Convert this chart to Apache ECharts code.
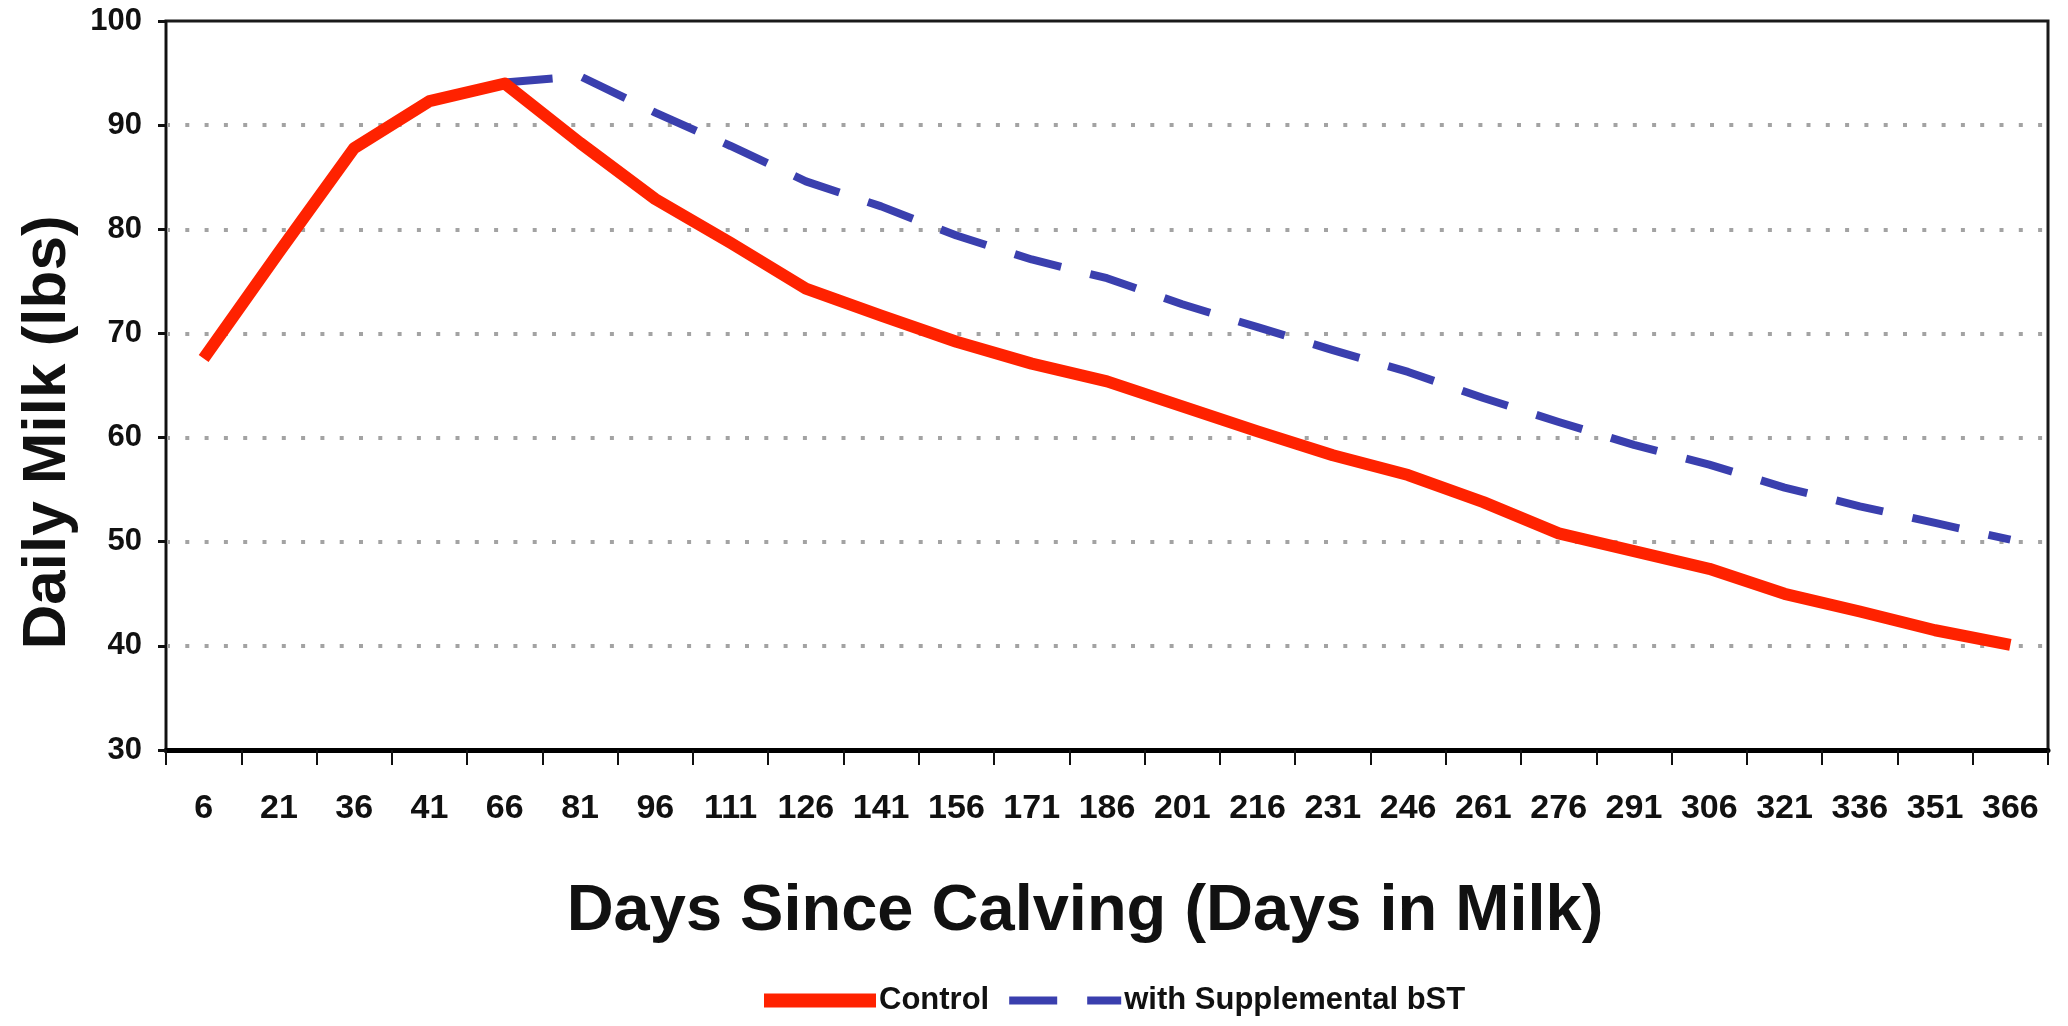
<!DOCTYPE html>
<html>
<head>
<meta charset="utf-8">
<script src="https://cdn.jsdelivr.net/npm/echarts/dist/echarts.min.js"></script>
<style>
  html, body { margin: 0; padding: 0; background: #ffffff; }
  #chart { width: 2068px; height: 1026px; }
</style>
</head>
<body>
<div id="chart"></div>
<script>
// Days since calving (category labels, as printed in the original, including "41")
const categories = ['6','21','36','41','66','81','96','111','126','141','156','171','186',
                    '201','216','231','246','261','276','291','306','321','336','351','366'];

// Daily milk (lbs), Control
const control = [67.6, 77.8, 87.8, 92.3, 94.0, 88.3, 82.9, 78.7, 74.3, 71.7, 69.2, 67.1, 65.4,
                 63.0, 60.6, 58.3, 56.4, 53.8, 50.8, 49.1, 47.4, 45.0, 43.3, 41.5, 40.1];

// Daily milk (lbs), with Supplemental bST (starts at day 66)
const withBST = [null, null, null, null, 94.1, 94.7, 91.2, 88.0, 84.6, 82.2, 79.4, 77.1, 75.3,
                 72.8, 70.6, 68.4, 66.3, 63.8, 61.5, 59.3, 57.4, 55.2, 53.4, 51.8, 50.2];

// Y axis range
const yMin = 30, yMax = 100, yStep = 10;

const seriesNames = ['Control', 'with Supplemental bST'];

const chart = echarts.init(document.getElementById('chart'), null, { renderer: 'canvas' });

const sans = '"Liberation Sans", Arial, Helvetica, sans-serif';

chart.setOption({
  animation: false,
  backgroundColor: '#ffffff',
  grid: {
    left: 166, right: 20, top: 21, bottom: 276,
    containLabel: false,
    show: true,
    borderColor: '#1a1a1a',
    borderWidth: 3,
    backgroundColor: 'transparent'
  },
  legend: {
    data: [
      { name: seriesNames[0], lineStyle: { width: 14 } },
      { name: seriesNames[1], lineStyle: { width: 8 } }
    ],
    left: 752,
    top: 980,
    itemWidth: 112,
    itemHeight: 16,
    itemGap: 16,
    itemStyle: { opacity: 0 },
    textStyle: {
      fontFamily: sans,
      fontWeight: 'bold',
      fontSize: 31,
      color: '#111',
      padding: [0, 0, 0, -2]
    }
  },
  xAxis: {
    type: 'category',
    data: categories,
    boundaryGap: true,
    name: 'Days Since Calving (Days in Milk)',
    nameLocation: 'middle',
    nameGap: 130,
    nameTextStyle: {
      fontFamily: sans,
      fontWeight: 'bold',
      fontSize: 65,
      color: '#111',
      padding: [0, 44, 0, 0]
    },
    axisLine: { show: true, lineStyle: { color: '#000', width: 5 } },
    axisTick: { show: true, interval: 0, length: 15, lineStyle: { color: '#111', width: 2 } },
    axisLabel: {
      interval: 0,
      margin: 42,
      fontFamily: sans,
      fontWeight: 'bold',
      fontSize: 34,
      color: '#111'
    },
    splitLine: { show: false }
  },
  yAxis: {
    type: 'value',
    min: yMin,
    max: yMax,
    interval: yStep,
    name: 'Daily Milk (lbs)',
    nameLocation: 'middle',
    nameGap: 87,
    nameRotate: 90,
    nameTextStyle: {
      fontFamily: sans,
      fontWeight: 'bold',
      fontSize: 62,
      color: '#111',
      padding: [0, 94, 0, 0]
    },
    axisLine: { show: true, lineStyle: { color: '#111', width: 2 } },
    axisTick: { show: true, length: 8, lineStyle: { color: '#111', width: 3 } },
    axisLabel: {
      margin: 24,
      fontFamily: sans,
      fontWeight: 'bold',
      fontSize: 31,
      color: '#111'
    },
    splitLine: {
      show: true,
      showMinLine: false,
      showMaxLine: false,
      lineStyle: { color: '#a3a3a3', width: 4, type: [4, 15.3] }
    }
  },
  series: [
    {
      name: seriesNames[0],
      type: 'line',
      data: control,
      symbol: 'none',
      showSymbol: false,
      smooth: false,
      lineStyle: { color: '#ff2200', width: 12, cap: 'butt', join: 'round' },
      itemStyle: { color: '#ff2200' },
      z: 3
    },
    {
      name: seriesNames[1],
      type: 'line',
      data: withBST,
      symbol: 'none',
      showSymbol: false,
      smooth: false,
      connectNulls: false,
      lineStyle: { color: '#3a3fae', width: 8, type: [48, 30], cap: 'butt', join: 'round' },
      itemStyle: { color: '#3a3fae' },
      z: 2
    }
  ]
});
</script>
</body>
</html>
